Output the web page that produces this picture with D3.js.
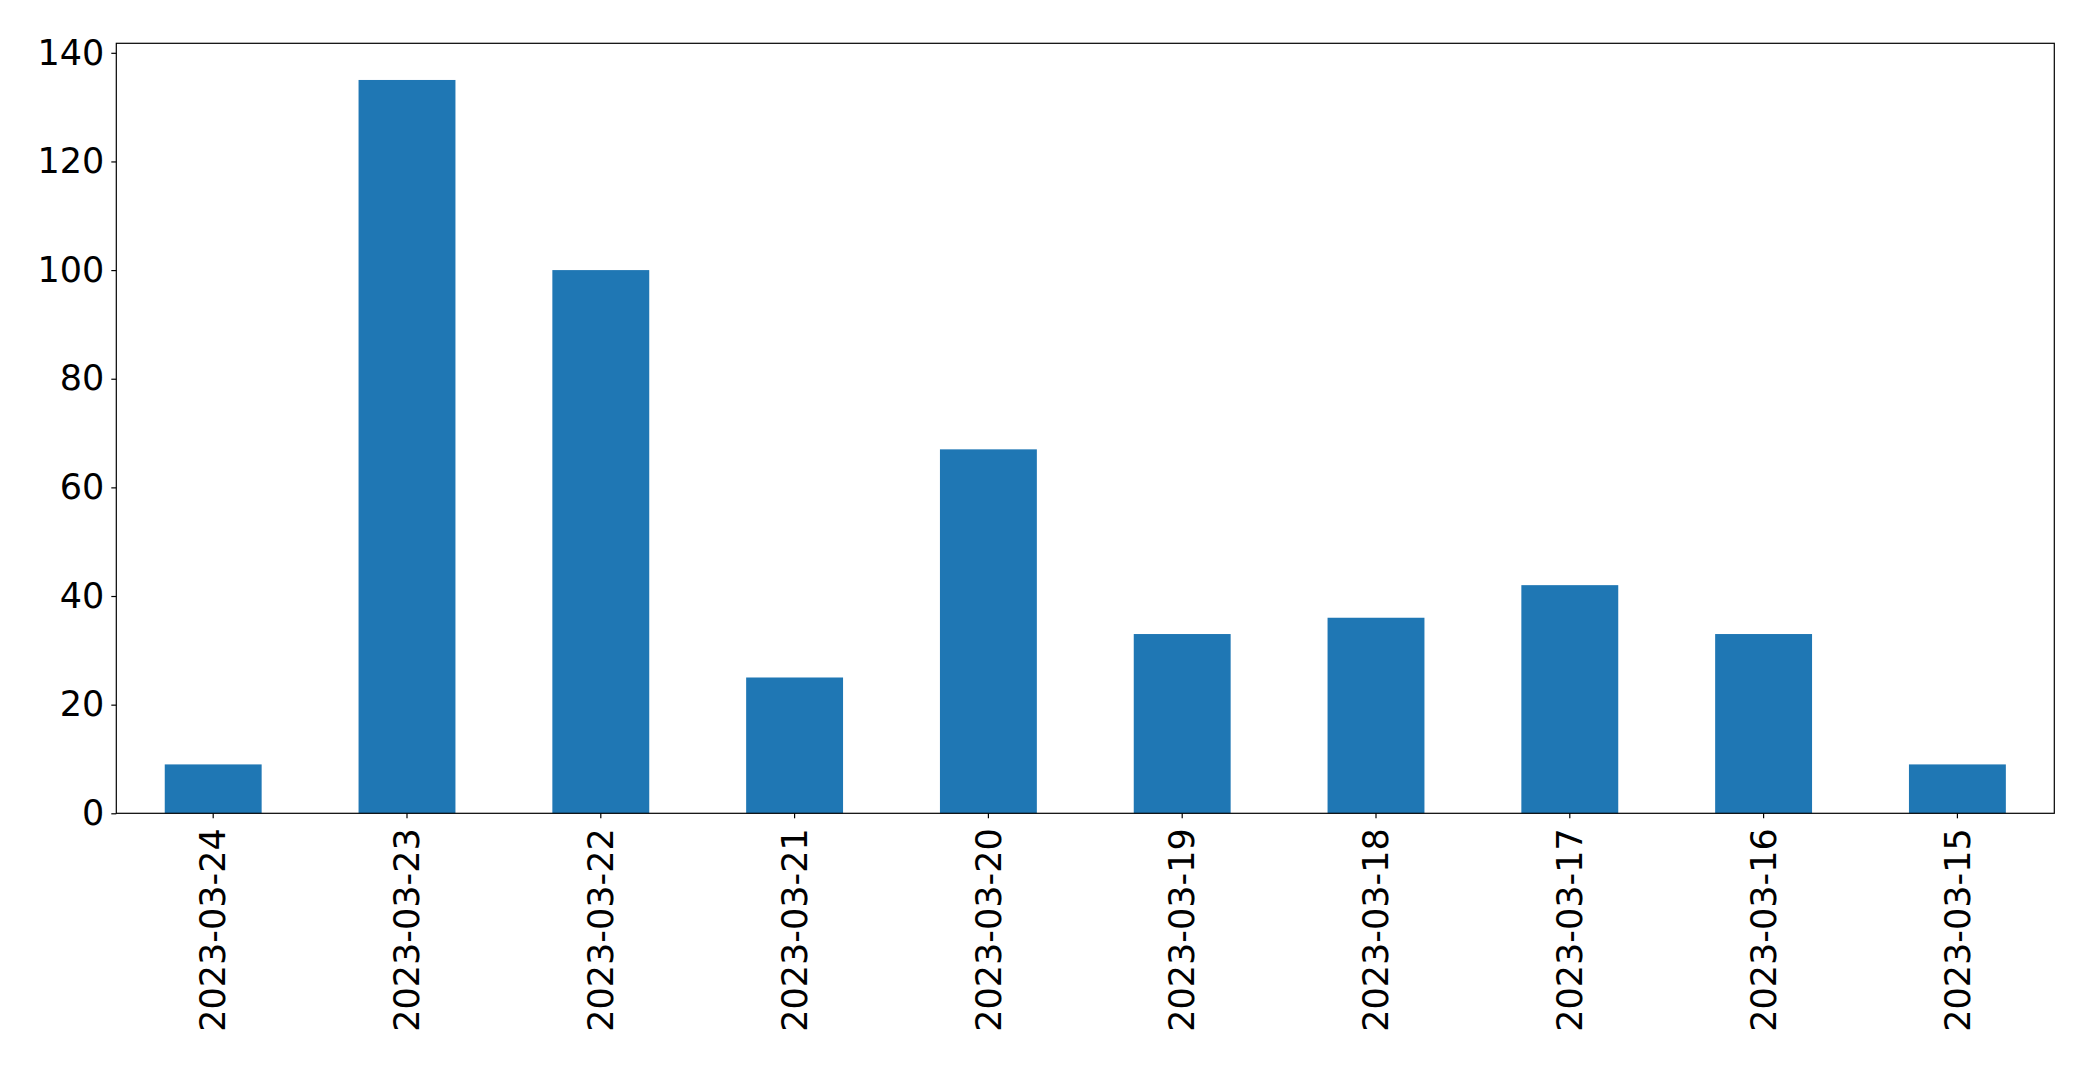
<!DOCTYPE html>
<html><head><meta charset="utf-8">
<script src="https://cdn.jsdelivr.net/npm/d3@7"></script>
<style>body{margin:0;background:#fff}svg{display:block}</style>
</head><body>
<svg id="c" width="2093" height="1065"></svg>
<script>
const categories = ["2023-03-24","2023-03-23","2023-03-22","2023-03-21","2023-03-20","2023-03-19","2023-03-18","2023-03-17","2023-03-16","2023-03-15"];
const values = [9,135,100,25,67,33,36,42,33,9];
const yTicks = [0,20,40,60,80,100,120,140];

const W = 2093, H = 1065;
const m = {left:116.3, top:43.3, right:W-2054.3, bottom:H-813.3};
const svg = d3.select("#c");
const iw = W - m.left - m.right, ih = H - m.top - m.bottom;
const g = svg.append("g").attr("transform", `translate(${m.left},${m.top})`);

const x = d3.scaleBand().domain(categories).range([0, iw]).paddingInner(0.5).paddingOuter(0.25);
const y = d3.scaleLinear().domain([0, d3.max(values)*1.05]).range([ih, 0]);

g.selectAll("rect.bar").data(values).join("rect")
  .attr("class","bar")
  .attr("x",(d,i)=>x(categories[i]))
  .attr("width",x.bandwidth())
  .attr("y",d=>y(d))
  .attr("height",d=>ih-y(d))
  .attr("fill","#1f77b4");

const font = "DejaVu Sans";
const fs = 35;

const ya = g.append("g").call(d3.axisLeft(y).tickValues(yTicks).tickSize(5).tickPadding(7));
ya.select(".domain").remove();
ya.selectAll("text").attr("font-family",font).attr("font-size",fs).attr("fill","#000");
ya.selectAll("line").attr("stroke","#000").attr("stroke-width",1.2);

const xa = g.append("g").attr("transform",`translate(0,${ih})`).call(d3.axisBottom(x).tickSize(5).tickPadding(0));
xa.select(".domain").remove();
xa.selectAll("line").attr("stroke","#000").attr("stroke-width",1.2);
xa.selectAll("text")
  .attr("font-family",font).attr("font-size",fs).attr("fill","#000")
  .attr("transform","rotate(-90)")
  .attr("text-anchor","end")
  .attr("x",-15).attr("y",0).attr("dy","0.35em");

g.append("rect").attr("x",0).attr("y",0).attr("width",iw).attr("height",ih)
  .attr("fill","none").attr("stroke","#000").attr("stroke-width",1.2);
</script>
</body></html>
